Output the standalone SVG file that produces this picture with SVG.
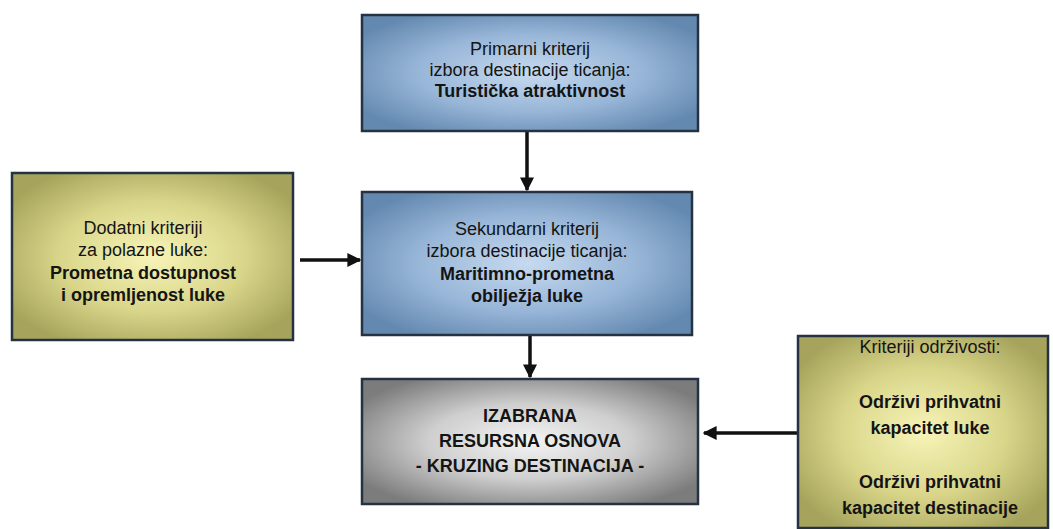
<svg xmlns="http://www.w3.org/2000/svg" width="1053" height="529" viewBox="0 0 1053 529">
<defs>
<radialGradient id="gBlue" cx="50%" cy="50%" r="60%">
<stop offset="0" stop-color="#c6daef"/>
<stop offset="0.55" stop-color="#98b6d8"/>
<stop offset="1" stop-color="#6489b0"/>
</radialGradient>
<radialGradient id="gYel" cx="50%" cy="50%" r="60%">
<stop offset="0" stop-color="#f7f4b8"/>
<stop offset="0.55" stop-color="#d9d68a"/>
<stop offset="1" stop-color="#a6a45c"/>
</radialGradient>
<radialGradient id="gGray" cx="50%" cy="50%" r="60%">
<stop offset="0" stop-color="#f4f4f4"/>
<stop offset="0.5" stop-color="#cfcfcf"/>
<stop offset="1" stop-color="#7c7c7c"/>
</radialGradient>
<marker id="ah" viewBox="0 0 10 10" refX="9" refY="5" markerWidth="4" markerHeight="4" orient="auto" markerUnits="strokeWidth">
<path d="M0,0 L10,5 L0,10 z" fill="#111"/>
</marker>
<style>
.box{stroke:#243241;stroke-width:2.5}
.t{font-family:"Liberation Sans",Arial,sans-serif;font-size:18px;fill:#141414;text-anchor:middle}
.b{font-weight:bold}
.c{stroke:#111;stroke-width:3.5;fill:none;marker-end:url(#ah)}
</style>
</defs>
<rect width="1053" height="529" fill="#ffffff"/>
<g id="connectors">
<line class="c" x1="527" y1="132" x2="527" y2="190"/>
<line class="c" x1="530" y1="336" x2="530" y2="377"/>
<line class="c" x1="300" y1="260" x2="360" y2="260"/>
<line class="c" x1="798" y1="433" x2="704" y2="433"/>
</g>
<g id="primary">
<rect class="box" x="362" y="15" width="336" height="116" fill="url(#gBlue)"/>
<text class="t" x="530" y="55">Primarni kriterij</text>
<text class="t" x="530" y="76">izbora destinacije ticanja:</text>
<text class="t b" x="530" y="97">Turistička atraktivnost</text>
</g>
<g id="secondary">
<rect class="box" x="362" y="192" width="330" height="143" fill="url(#gBlue)"/>
<text class="t" x="527" y="235">Sekundarni kriterij</text>
<text class="t" x="527" y="257">izbora destinacije ticanja:</text>
<text class="t b" x="527" y="280">Maritimno-prometna</text>
<text class="t b" x="527" y="302">obilježja luke</text>
</g>
<g id="additional">
<rect class="box" x="12" y="173" width="281" height="167" fill="url(#gYel)"/>
<text class="t" x="143" y="234">Dodatni kriteriji</text>
<text class="t" x="143" y="256">za polazne luke:</text>
<text class="t b" x="143" y="279">Prometna dostupnost</text>
<text class="t b" x="143" y="301">i opremljenost luke</text>
</g>
<g id="result">
<rect class="box" x="362" y="379" width="336" height="125" fill="url(#gGray)"/>
<text class="t b" x="530" y="422">IZABRANA</text>
<text class="t b" x="530" y="447">RESURSNA OSNOVA</text>
<text class="t b" x="530" y="472">- KRUZING DESTINACIJA -</text>
</g>
<g id="sustainability">
<rect class="box" x="798" y="336" width="250" height="192" fill="url(#gYel)"/>
<text class="t" x="930" y="353">Kriteriji održivosti:</text>
<text class="t b" x="930" y="408">Održivi prihvatni</text>
<text class="t b" x="930" y="434">kapacitet luke</text>
<text class="t b" x="930" y="488">Održivi prihvatni</text>
<text class="t b" x="930" y="514">kapacitet destinacije</text>
</g>
</svg>
